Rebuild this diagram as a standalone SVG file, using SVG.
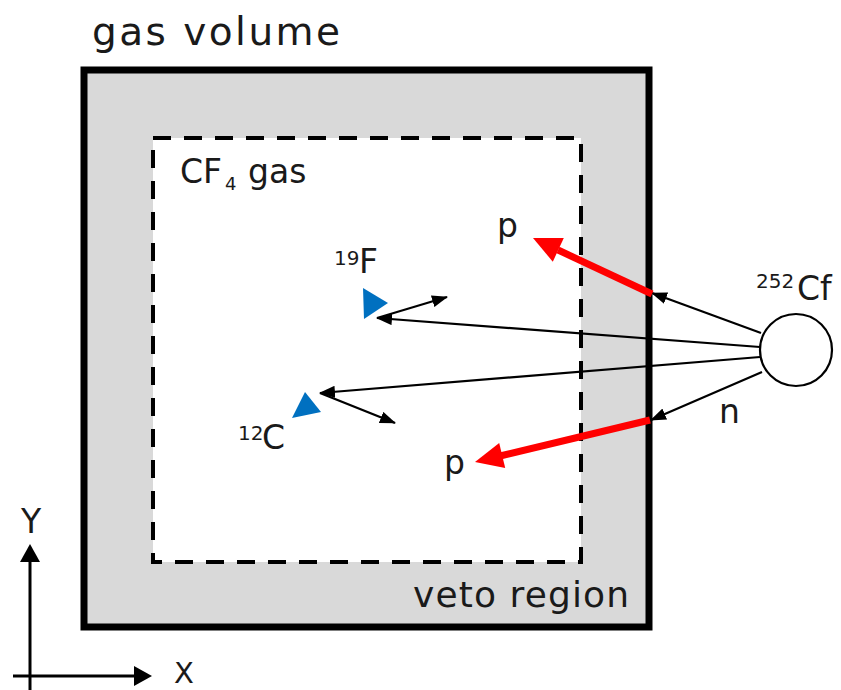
<svg xmlns="http://www.w3.org/2000/svg" width="841" height="690" viewBox="0 0 841 690">
<style>
text{font-family:"DejaVu Sans","Liberation Sans",sans-serif;fill:#1a1a1a}
.lbl{font-size:33px}
.sup{font-size:20px}
.thin{stroke:#000;stroke-width:2.2;fill:none;marker-end:url(#ah)}
.red{stroke:#ff0000;stroke-width:7;fill:none}
.redh{fill:#ff0000}
.blue{fill:#0070c0}
</style>
<defs>
<marker id="ah" markerUnits="userSpaceOnUse" markerWidth="16" markerHeight="12" refX="15" refY="6" orient="auto">
<path d="M0,0 L16,6 L0,12 z" fill="#000"/>
</marker>
</defs>
<rect width="841" height="690" fill="#fff"/>
<g id="gas-volume">
<rect x="84" y="70" width="565" height="557" fill="#d9d9d9" stroke="#000" stroke-width="7"/>
<text x="92" y="45" style="font-size:39px" textLength="248" lengthAdjust="spacing">gas volume</text>
</g>
<g id="cf4-gas">
<rect x="153" y="138" width="428" height="424" fill="#fff" stroke="#000" stroke-width="4" stroke-dasharray="18 13"/>
<text x="180" y="183" class="lbl">CF</text>
<text x="225" y="190" style="font-size:18px">4</text>
<text x="248" y="183" class="lbl">gas</text>
</g>
<g id="veto-region">
<text x="413" y="607" style="font-size:36px" textLength="216" lengthAdjust="spacing">veto region</text>
</g>
<g id="cf252">
<circle cx="796" cy="350" r="36" fill="#fff" stroke="#000" stroke-width="2.2"/>
<text x="756" y="288" class="sup">252</text>
<text x="797" y="300" class="lbl">Cf</text>
</g>
<g id="f19">
<polygon class="blue" points="363,288 388,303 364,319"/>
<text x="334" y="265" class="sup">19</text>
<text x="359" y="273" class="lbl">F</text>
</g>
<g id="c12">
<polygon class="blue" points="292,418 305,392 321,412"/>
<text x="238" y="440" class="sup">12</text>
<text x="262" y="449" class="lbl">C</text>
</g>
<g id="labels">
<text x="497" y="237" class="lbl">p</text>
<text x="444" y="474" class="lbl">p</text>
<text x="719" y="423" class="lbl">n</text>
</g>
<g id="connectors">
<line class="thin" x1="761" y1="333" x2="652" y2="293"/>
<line class="thin" x1="760" y1="347" x2="377" y2="318"/>
<line class="thin" x1="760" y1="357" x2="320" y2="393"/>
<line class="thin" x1="762" y1="372" x2="651" y2="420"/>
<line class="thin" x1="377" y1="318" x2="447" y2="297"/>
<line class="thin" x1="320" y1="393" x2="395" y2="423"/>
<line class="red" x1="652" y1="294" x2="558" y2="250"/>
<polygon class="redh" points="533,238 563.8,238.1 552.8,261.7"/>
<line class="red" x1="650" y1="420" x2="500" y2="456"/>
<polygon class="redh" points="475,462 499.2,442.9 505.2,468.1"/>
</g>
<g id="axes">
<line x1="30" y1="690" x2="30" y2="560" stroke="#000" stroke-width="3"/>
<polygon points="30,544 20,562 40,562" fill="#000"/>
<line x1="13" y1="676" x2="137" y2="676" stroke="#000" stroke-width="3"/>
<polygon points="152,676 134,666 134,686" fill="#000"/>
<text x="31" y="533" class="lbl" text-anchor="middle">Y</text>
<text x="184" y="683" style="font-size:29px" text-anchor="middle">X</text>
</g>
</svg>
